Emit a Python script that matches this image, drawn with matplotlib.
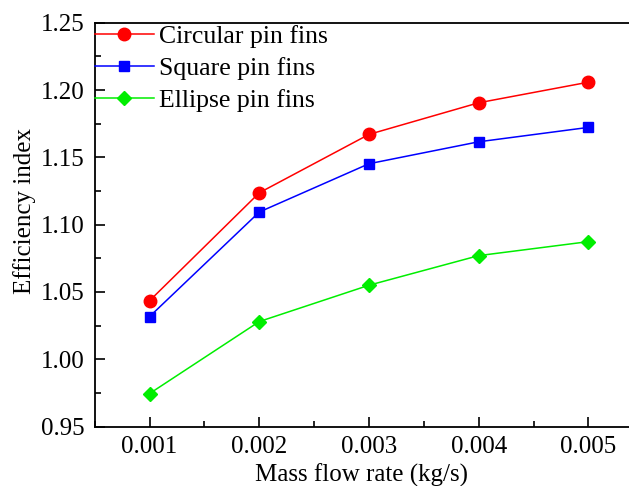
import matplotlib
matplotlib.use("Agg")
import matplotlib.pyplot as plt
from matplotlib.ticker import MultipleLocator

# data
mass_flow = [0.001, 0.002, 0.003, 0.004, 0.005]
circular = [1.0435, 1.1237, 1.1671, 1.1906, 1.2059]
square = [1.0317, 1.1094, 1.1453, 1.1616, 1.1723]
ellipse = [0.9745, 1.0280, 1.0550, 1.0770, 1.0874]
x_ticks = [0.001, 0.002, 0.003, 0.004, 0.005]
x_ticklabels = ["0.001", "0.002", "0.003", "0.004", "0.005"]
y_ticks = [0.95, 1.00, 1.05, 1.10, 1.15, 1.20, 1.25]

plt.rcParams['font.family'] = ['Liberation Serif', 'DejaVu Serif']

fig = plt.figure(figsize=(6.29, 4.86), dpi=100)
ax = fig.add_axes([0.1506, 0.1224, 0.8494, 0.8306])

ax.plot(mass_flow, circular, color="#ff0000", marker="o", markersize=9, lw=1.1, label="Circular pin fins")
ax.plot(mass_flow, square, color="#0000ff", marker="s", markersize=7.5, lw=1.1, label="Square pin fins")
ax.plot(mass_flow, ellipse, color="#00ee00", marker="D", markersize=7.5, lw=1.1, label="Ellipse pin fins")

ax.set_xlim(0.0005, 0.00537)
ax.set_ylim(0.95, 1.25)
ax.set_xticks(x_ticks)
ax.set_xticklabels(x_ticklabels)
ax.set_yticks(y_ticks)
ax.set_yticklabels([f"{v:.2f}" for v in y_ticks])
ax.xaxis.set_minor_locator(MultipleLocator(0.0005))
ax.yaxis.set_minor_locator(MultipleLocator(0.025))
ax.tick_params(which="both", direction="in", labelsize=18, width=1.2)
ax.tick_params(which="major", length=7)
ax.tick_params(which="minor", length=4)
ax.tick_params(axis="x", pad=7)
ax.tick_params(axis="y", pad=7)
ax.spines["right"].set_visible(False)
for s in ["left", "bottom", "top"]:
    ax.spines[s].set_linewidth(1.3)

ax.set_xlabel("Mass flow rate (kg/s)", fontsize=18, labelpad=4)
ax.set_ylabel("Efficiency index", fontsize=18, labelpad=4)
ax.yaxis.label.set_y(0.534)

ax.legend(loc="upper left", bbox_to_anchor=(0.0, 0.995), frameon=False, fontsize=18.5,
          handlelength=2.3, handletextpad=0.2, labelspacing=0.36, borderaxespad=0,
          borderpad=0.0)

fig.savefig("out.png", dpi=100)
